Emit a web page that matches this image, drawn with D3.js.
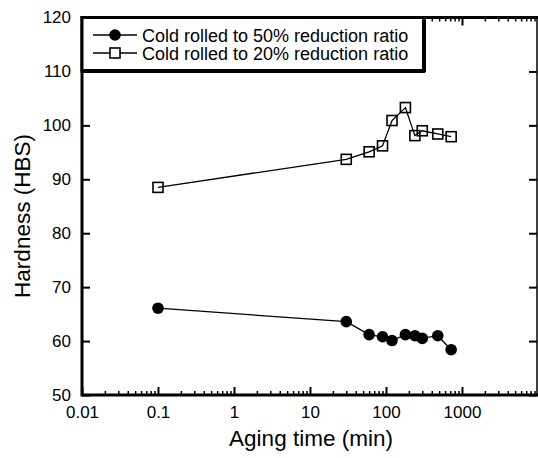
<!DOCTYPE html>
<html>
<head>
<meta charset="utf-8">
<script src="https://cdn.jsdelivr.net/npm/d3@7"></script>
<style>
  body { margin: 0; background: #fff; }
  svg { display: block; font-family: "Liberation Sans", Arial, sans-serif; }
</style>
</head>
<body>
<div id="chart"></div>
<script>
// aging time in minutes
const time50 = [0.1, 30, 60, 90, 120, 180, 240, 300, 480, 720];
const hard50 = [66.1, 63.6, 61.2, 60.8, 60.1, 61.2, 61.0, 60.5, 61.0, 58.4];
const time20 = [0.1, 30, 60, 90, 120, 180, 240, 300, 480, 720];
const hard20 = [88.5, 93.7, 95.1, 96.2, 100.9, 103.3, 98.1, 99.0, 98.4, 97.9];
const seriesNames = ["Cold rolled to 50% reduction ratio", "Cold rolled to 20% reduction ratio"];
const xTickLabels = ["0.01", "0.1", "1", "10", "100", "1000"];
const yTickLabels = [50, 60, 70, 80, 90, 100, 110, 120];

const W = 538, H = 458;
const mLeft = 82, mRight = 538, mTop = 17.5, mBottom = 395;

const svg = d3.select("#chart").append("svg").attr("width", W).attr("height", H);

const x = d3.scaleLog().domain([0.01, 10000]).range([mLeft, mRight]);
const y = d3.scaleLinear().domain([50, 120]).range([mBottom, mTop]);

const majorX = xTickLabels.map(Number);
const minorX = x.ticks().filter(v => majorX.indexOf(v) < 0 && v < 10000);

function styleAxis(g, sw) {
  g.select(".domain").remove();
  g.selectAll(".tick line").attr("stroke", "#000").attr("stroke-width", sw);
  g.selectAll(".tick text").attr("fill", "#000").attr("font-size", 17);
}

// bottom axis
svg.append("g").attr("transform", `translate(0,${mBottom})`)
  .call(d3.axisBottom(x).tickValues(majorX).tickSize(-8).tickPadding(11).tickFormat((d, i) => xTickLabels[i]))
  .call(g => styleAxis(g, 2));
svg.append("g").attr("transform", `translate(0,${mBottom})`)
  .call(d3.axisBottom(x).tickValues(minorX).tickSize(-4).tickFormat(""))
  .call(g => styleAxis(g, 1.5));
// top axis
svg.append("g").attr("transform", `translate(0,${mTop})`)
  .call(d3.axisTop(x).tickValues(majorX).tickSize(-8).tickFormat(""))
  .call(g => styleAxis(g, 2));
svg.append("g").attr("transform", `translate(0,${mTop})`)
  .call(d3.axisTop(x).tickValues(minorX).tickSize(-4).tickFormat(""))
  .call(g => styleAxis(g, 1.5));
// left axis
svg.append("g").attr("transform", `translate(${mLeft},0)`)
  .call(d3.axisLeft(y).tickValues(yTickLabels).tickSize(-8).tickPadding(11).tickFormat(d3.format("d")))
  .call(g => styleAxis(g, 2));
// right axis
svg.append("g").attr("transform", `translate(${mRight - 1},0)`)
  .call(d3.axisRight(y).tickValues(yTickLabels).tickSize(-8).tickFormat(""))
  .call(g => styleAxis(g, 2));

// frame
svg.append("line").attr("x1", mLeft).attr("x2", mRight).attr("y1", mBottom).attr("y2", mBottom)
  .attr("stroke", "#000").attr("stroke-width", 3);
svg.append("line").attr("x1", mLeft).attr("x2", mRight).attr("y1", mTop).attr("y2", mTop)
  .attr("stroke", "#000").attr("stroke-width", 3);
svg.append("line").attr("x1", mLeft).attr("x2", mLeft).attr("y1", mTop - 1.5).attr("y2", mBottom + 1.5)
  .attr("stroke", "#000").attr("stroke-width", 3);
svg.append("line").attr("x1", mRight - 1).attr("x2", mRight - 1).attr("y1", mTop).attr("y2", mBottom)
  .attr("stroke", "#000").attr("stroke-width", 1.5);

// data
const line = d3.line().x(d => x(d[0])).y(d => y(d[1]));
const pts50 = time50.map((t, i) => [t, hard50[i]]);
const pts20 = time20.map((t, i) => [t, hard20[i]]);

svg.append("path").datum(pts50).attr("d", line)
  .attr("fill", "none").attr("stroke", "#000").attr("stroke-width", 1.3);
svg.append("path").datum(pts20).attr("d", line)
  .attr("fill", "none").attr("stroke", "#000").attr("stroke-width", 1.3);

svg.selectAll("circle.p50").data(pts50).join("circle")
  .attr("class", "p50")
  .attr("cx", d => x(d[0])).attr("cy", d => y(d[1])).attr("r", 5.8)
  .attr("fill", "#000");
const sq = 10;
svg.selectAll("rect.p20").data(pts20).join("rect")
  .attr("class", "p20")
  .attr("x", d => x(d[0]) - sq / 2).attr("y", d => y(d[1]) - sq / 2)
  .attr("width", sq).attr("height", sq)
  .attr("fill", "none").attr("stroke", "#000").attr("stroke-width", 1.6);

// legend
const lg = svg.append("g");
lg.append("rect").attr("x", mLeft).attr("y", mTop).attr("width", 424 - mLeft).attr("height", 71 - mTop)
  .attr("fill", "#fff").attr("stroke", "#000").attr("stroke-width", 3);
lg.append("line").attr("x1", mLeft + 2).attr("x2", 425).attr("y1", 71).attr("y2", 71)
  .attr("stroke", "#000").attr("stroke-width", 4);
lg.append("line").attr("x1", 424).attr("x2", 424).attr("y1", mTop + 2).attr("y2", 72)
  .attr("stroke", "#000").attr("stroke-width", 4);

const rowY = [35, 53];
seriesNames.forEach((name, i) => {
  const ry = rowY[i];
  lg.append("line").attr("x1", 93).attr("x2", 137).attr("y1", ry).attr("y2", ry)
    .attr("stroke", "#000").attr("stroke-width", 1.3);
  if (i === 0) {
    lg.append("circle").attr("cx", 115).attr("cy", ry).attr("r", 5.8).attr("fill", "#000");
  } else {
    lg.append("rect").attr("x", 115 - sq / 2).attr("y", ry - sq / 2).attr("width", sq).attr("height", sq)
      .attr("fill", "#fff").attr("stroke", "#000").attr("stroke-width", 1.6);
  }
  lg.append("text").attr("x", 142).attr("y", ry + 6.5).attr("font-size", 18).attr("fill", "#000").text(name);
});

// axis titles
svg.append("text").attr("x", 311).attr("y", 446).attr("text-anchor", "middle")
  .attr("font-size", 22.5).attr("fill", "#000").text("Aging time (min)");
svg.append("text").attr("transform", "translate(30,216) rotate(-90)").attr("text-anchor", "middle")
  .attr("font-size", 22.5).attr("fill", "#000").text("Hardness (HBS)");
</script>
</body>
</html>
